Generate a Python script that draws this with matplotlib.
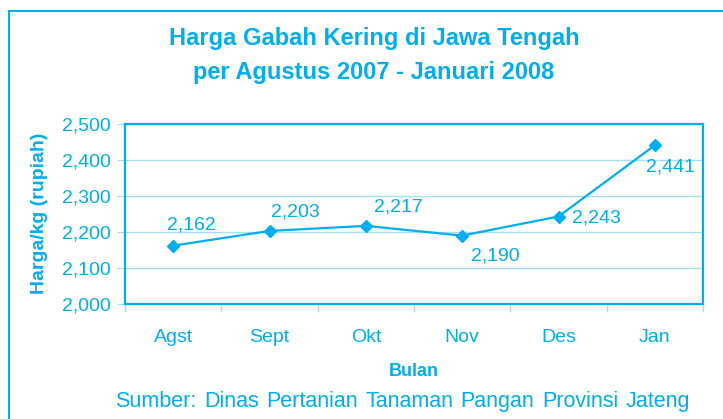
import matplotlib.pyplot as plt
import numpy as np
from matplotlib.patches import Rectangle

# data
bulan = ['Agst', 'Sept', 'Okt', 'Nov', 'Des', 'Jan']
harga = [2162, 2203, 2217, 2190, 2243, 2441]
yticks = [2000, 2100, 2200, 2300, 2400, 2500]
sumber = 'Sumber: Dinas Pertanian Tanaman Pangan Provinsi Jateng'

blue = '#00AEEF'
grid_blue = '#A9DDF4'
sans = ['Liberation Sans', 'DejaVu Sans']

W, H = 723, 419
fig = plt.figure(figsize=(W / 100, H / 100), dpi=100)
ax = fig.add_axes([125 / W, 1 - 304 / H, 578 / W, 180 / H])

# outer frame of the figure box
fig.patches.append(Rectangle((9 / W, -0.1), 1.2, 1 - 11 / H + 0.1,
                             transform=fig.transFigure, fill=False,
                             edgecolor=blue, linewidth=1.5))

x = np.arange(len(bulan))
ax.plot(x, harga, color=blue, linewidth=1.6, marker='D', markersize=6.5)

# label offsets in pixels (dx, dy)
offs = [(18, 21), (26, 19), (33, 19), (33, -20), (38, -1), (16, -22)]
for xi, yi, (dx, dy) in zip(x, harga, offs):
    ax.annotate('{:,}'.format(yi), (xi, yi), xytext=(dx, dy),
                textcoords='offset pixels', ha='center', va='center',
                color=blue, fontsize=14, family=sans)

ax.set_xlim(-0.5, len(bulan) - 0.5)
ax.set_ylim(2000, 2500)
ax.set_yticks(yticks)
ax.set_yticklabels(['{:,}'.format(v) for v in yticks], family=sans, fontsize=14)
ax.yaxis.grid(True, color=grid_blue, linewidth=1)
ax.set_axisbelow(True)

ax.set_xticks(np.arange(-0.5, len(bulan), 1.0))
ax.set_xticklabels([])
ax.set_xticks(x, minor=True)
ax.set_xticklabels(bulan, minor=True, family=sans, fontsize=14)
ax.tick_params(axis='x', which='minor', length=0, pad=18, colors=blue)
ax.tick_params(axis='x', which='major', length=6, color=grid_blue, width=1)
ax.tick_params(axis='y', length=6, color=grid_blue, labelcolor=blue, pad=4)

for s in ax.spines.values():
    s.set_color(blue)
    s.set_linewidth(1.6)

ax.set_xlabel('Bulan', color=blue, fontsize=13, fontweight='bold', family=sans, labelpad=12)
fig.text(40 / W, 1 - 213 / H, 'Harga/kg (rupiah)', rotation=90, ha='center', va='center',
         color=blue, fontsize=14, fontweight='bold', family=sans)

fig.text(374 / W, 1 - 39 / H, 'Harga Gabah Kering di Jawa Tengah', ha='center', va='center',
         color=blue, fontsize=17, fontweight='bold', family=sans)
fig.text(374 / W, 1 - 72 / H, 'per Agustus 2007 - Januari 2008', ha='center', va='center',
         color=blue, fontsize=17, fontweight='bold', family=sans)

# source line, justified between x=115 and x=690 px
words = sumber.split()
objs = [fig.text(0, 1 - 401 / H, w, ha='left', va='center', color=blue,
                 fontsize=15.5, family=sans) for w in words]
rend = fig.canvas.get_renderer()
widths = [t.get_window_extent(rend).width for t in objs]
gap = (690 - 115 - sum(widths)) / (len(words) - 1)
pos = 115
for t, w in zip(objs, widths):
    t.set_x(pos / W)
    pos += w + gap

fig.savefig('out.png', dpi=100)
